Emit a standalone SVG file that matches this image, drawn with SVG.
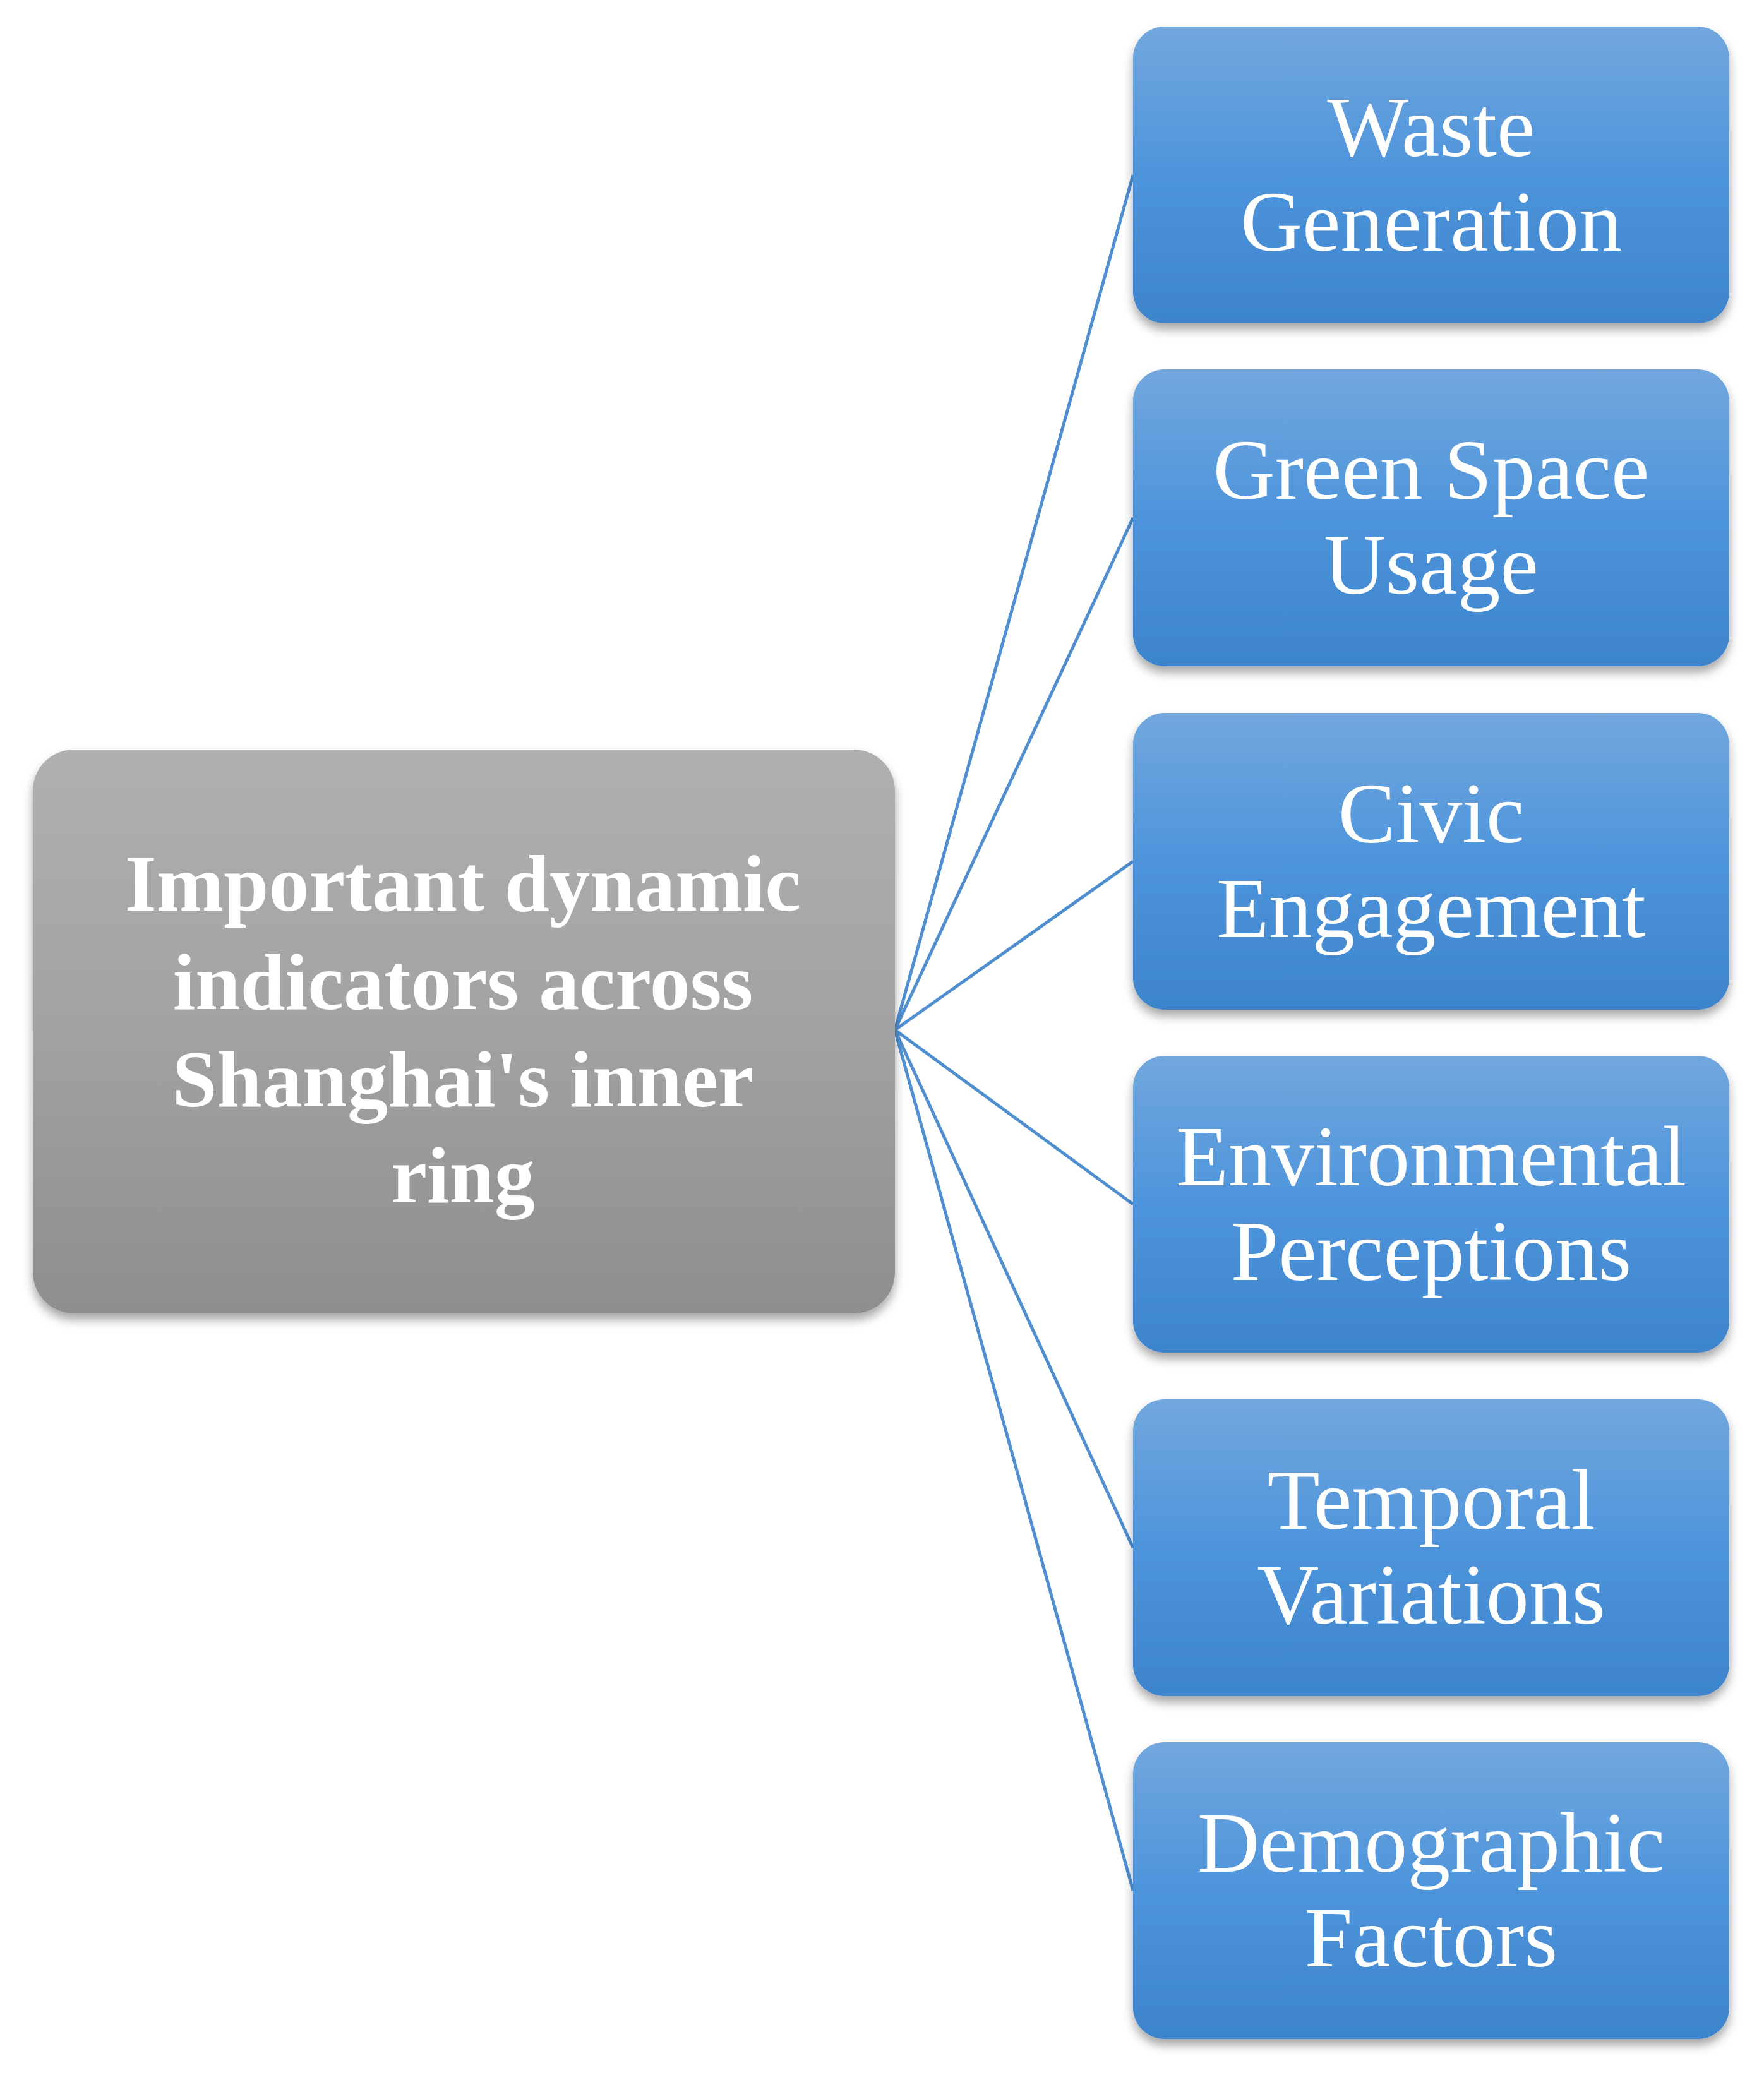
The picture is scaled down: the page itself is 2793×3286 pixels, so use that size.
<svg xmlns="http://www.w3.org/2000/svg" width="2793" height="3286" viewBox="0 0 2793 3286">
<defs>
<linearGradient id="gb" x1="0" y1="0" x2="0" y2="1"><stop offset="0" stop-color="#72a7de"/><stop offset="0.5" stop-color="#4d94db"/><stop offset="1" stop-color="#3d84cc"/></linearGradient>
<linearGradient id="gg" x1="0" y1="0" x2="0" y2="1"><stop offset="0" stop-color="#b0b0b0"/><stop offset="0.5" stop-color="#a2a2a2"/><stop offset="1" stop-color="#8e8e8e"/></linearGradient>
<filter id="sh" x="-10%" y="-10%" width="120%" height="130%"><feDropShadow dx="0" dy="10" stdDeviation="8" flood-color="#000" flood-opacity="0.35"/></filter>
<style>
.b{fill:url(#gb);filter:url(#sh)}
.t{font-family:"Liberation Serif",serif;font-size:136px;fill:#fff;text-anchor:middle}
.c{font-family:"Liberation Serif",serif;font-size:128px;font-weight:bold;fill:#fff;text-anchor:middle}
.l{stroke:#4f8fd0;stroke-width:5;fill:none}
</style>
</defs>
<rect width="2793" height="3286" fill="#fff"/>
<g id="connectors">
<line class="l" x1="1417" y1="1631" x2="1794" y2="277"/>
<line class="l" x1="1417" y1="1631" x2="1794" y2="820"/>
<line class="l" x1="1417" y1="1631" x2="1794" y2="1364"/>
<line class="l" x1="1417" y1="1631" x2="1794" y2="1907"/>
<line class="l" x1="1417" y1="1631" x2="1794" y2="2451"/>
<line class="l" x1="1417" y1="1631" x2="1794" y2="2994"/>
</g>
<g id="center"><rect x="52" y="1187" width="1365" height="893" rx="65" fill="url(#gg)" filter="url(#sh)"/>
<text class="c" x="733" y="1442">Important dynamic</text><text class="c" x="733" y="1598">indicators across</text><text class="c" x="733" y="1752">Shanghai's inner</text><text class="c" x="733" y="1904">ring</text></g>
<g id="n1"><rect class="b" x="1794" y="42" width="944" height="470" rx="50"/><text class="t" x="2266" y="247">Waste</text><text class="t" x="2266" y="397">Generation</text></g>
<g id="n2"><rect class="b" x="1794" y="585" width="944" height="470" rx="50"/><text class="t" x="2266" y="790">Green Space</text><text class="t" x="2266" y="940">Usage</text></g>
<g id="n3"><rect class="b" x="1794" y="1129" width="944" height="470" rx="50"/><text class="t" x="2266" y="1334">Civic</text><text class="t" x="2266" y="1484">Engagement</text></g>
<g id="n4"><rect class="b" x="1794" y="1672" width="944" height="470" rx="50"/><text class="t" x="2266" y="1877">Environmental</text><text class="t" x="2266" y="2027">Perceptions</text></g>
<g id="n5"><rect class="b" x="1794" y="2216" width="944" height="470" rx="50"/><text class="t" x="2266" y="2421">Temporal</text><text class="t" x="2266" y="2571">Variations</text></g>
<g id="n6"><rect class="b" x="1794" y="2759" width="944" height="470" rx="50"/><text class="t" x="2266" y="2964">Demographic</text><text class="t" x="2266" y="3114">Factors</text></g>
</svg>
